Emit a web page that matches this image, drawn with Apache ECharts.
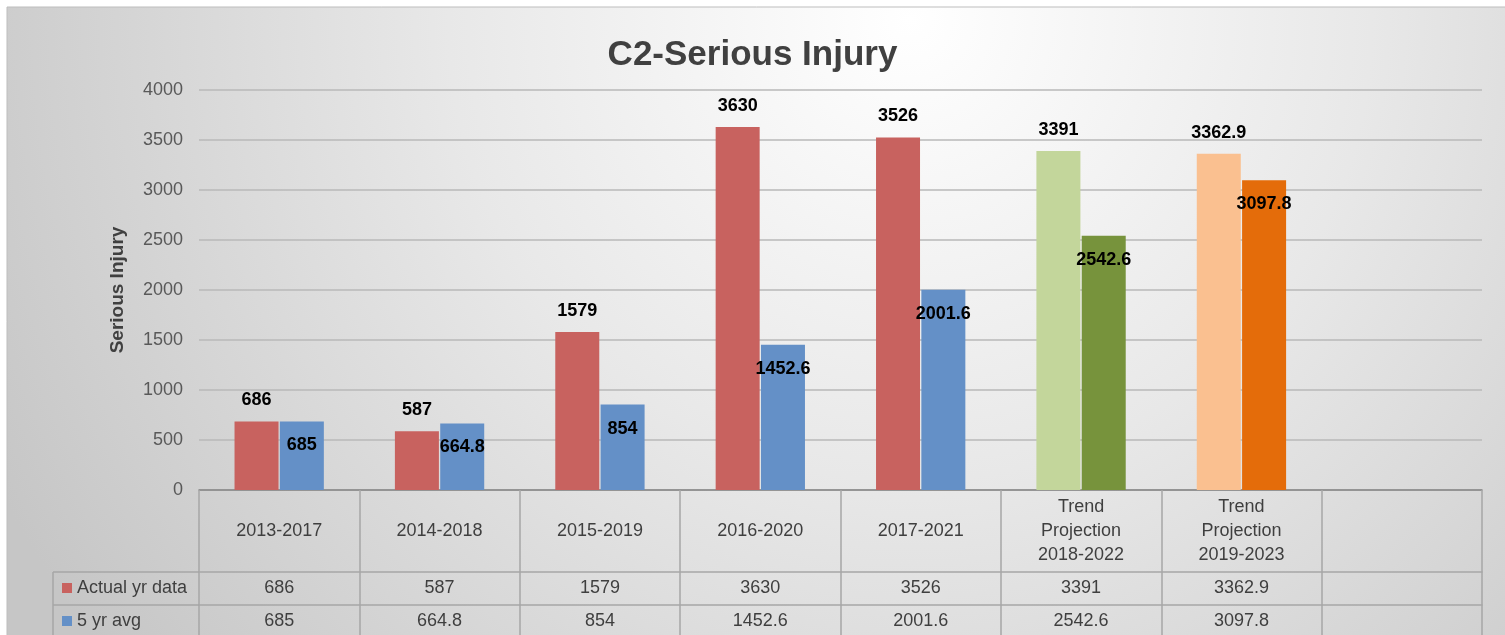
<!DOCTYPE html>
<html>
<head>
<meta charset="utf-8">
<script src="https://cdn.jsdelivr.net/npm/echarts@6/dist/echarts.min.js"></script>
<style>
  html, body { margin: 0; padding: 0; background: #fff; }
  #chart { width: 1505px; height: 635px; }
</style>
</head>
<body>
<div id="chart"></div>
<script>
// category columns (last column of the data table is empty)
const categories = ['2013-2017', '2014-2018', '2015-2019', '2016-2020', '2017-2021',
  'Trend\nProjection\n2018-2022', 'Trend\nProjection\n2019-2023', '']
const actualData = [686, 587, 1579, 3630, 3526, 3391, 3362.9, null]
const avgData = [685, 664.8, 854, 1452.6, 2001.6, 2542.6, 3097.8, null]
const seriesNames = ['Actual yr data', '5 yr avg']

// bar colours per column (projections get green / orange)
const actualColors = ['#C8625F', '#C8625F', '#C8625F', '#C8625F', '#C8625F', '#C3D69B', '#FAC090', '#C8625F']
const avgColors = ['#6490C7', '#6490C7', '#6490C7', '#6490C7', '#6490C7', '#77933C', '#E46C0A', '#6490C7']

const FONT = '"Liberation Sans", Arial, sans-serif'
const gridLeft = 199, gridRight = 1482, gridTop = 90, gridBottom = 490
const tableGrey = '#a6a6a6'
const textGrey = '#3f3f3f'

const fmt = (v) => (v === null || v === undefined) ? '' : String(v)

const chart = echarts.init(document.getElementById('chart'))

const tableAxis = (values, offset) => ({
  type: 'category',
  gridIndex: 0,
  position: 'bottom',
  offset: offset,
  data: values.map(fmt),
  axisLine: { show: true, lineStyle: { color: tableGrey, width: 1.5 } },
  axisTick: { show: false },
  axisLabel: {
    interval: 0, margin: 16, verticalAlign: 'middle',
    fontFamily: FONT, fontSize: 18, color: textGrey
  },
  splitLine: { show: false }
})

chart.setOption({
  animation: false,
  textStyle: { fontFamily: FONT },
  graphic: [
    {
      type: 'rect', z: -10, silent: true,
      shape: { x: 7, y: 7, width: 1505, height: 640 },
      style: {
        fill: new echarts.graphic.RadialGradient(0.6, 0.02, 1.6, [
          { offset: 0, color: '#ffffff' },
          { offset: 0.45, color: '#e8e8e8' },
          { offset: 1, color: '#c6c6c6' }
        ]),
        stroke: '#bdbdbd', lineWidth: 1
      }
    },
    { type: 'line', silent: true, shape: { x1: 53, y1: 572, x2: gridLeft, y2: 572 }, style: { stroke: tableGrey, lineWidth: 1.5 } },
    { type: 'line', silent: true, shape: { x1: 53, y1: 605, x2: gridLeft, y2: 605 }, style: { stroke: tableGrey, lineWidth: 1.5 } },
    { type: 'line', silent: true, shape: { x1: 53, y1: 572, x2: 53, y2: 640 }, style: { stroke: tableGrey, lineWidth: 1.5 } }
  ],
  title: {
    text: 'C2-Serious Injury',
    left: 'center', top: 38, padding: 0,
    textStyle: { fontFamily: FONT, fontSize: 35, fontWeight: 'bold', color: '#404040' }
  },
  legend: {
    orient: 'vertical',
    left: 62, top: 579, padding: 0,
    itemWidth: 10, itemHeight: 10, itemGap: 15,
    icon: 'rect',
    data: seriesNames,
    textStyle: { fontFamily: FONT, fontSize: 18, lineHeight: 18, color: textGrey, padding: [0, 0, 0, 0] }
  },
  grid: {
    left: gridLeft, right: 1505 - gridRight, top: gridTop, bottom: 635 - gridBottom,
    containLabel: false
  },
  xAxis: [
    {
      type: 'category',
      data: categories,
      axisLine: { show: true, lineStyle: { color: '#858585', width: 1.5 } },
      axisTick: { show: true, length: 150, lineStyle: { color: tableGrey, width: 1.5 } },
      axisLabel: {
        interval: 0, margin: 41, verticalAlign: 'middle', lineHeight: 24,
        fontFamily: FONT, fontSize: 18, color: textGrey
      }
    },
    tableAxis(actualData, 82),
    tableAxis(avgData, 115)
  ],
  yAxis: {
    type: 'value',
    min: 0, max: 4000, interval: 500,
    name: 'Serious Injury',
    nameLocation: 'middle', nameGap: 72, nameRotate: 90,
    nameTextStyle: { fontFamily: FONT, fontSize: 19, fontWeight: 'bold', color: '#404040' },
    axisLine: { show: false },
    axisTick: { show: false },
    axisLabel: {
      margin: 16, fontFamily: FONT, fontSize: 18, color: '#595959',
      formatter: (v) => String(v)
    },
    splitLine: { lineStyle: { color: '#b9b9b9', width: 1.5 } }
  },
  series: [
    {
      name: seriesNames[0],
      type: 'bar',
      barWidth: 44,
      barGap: '3%',
      itemStyle: { color: actualColors[0] },
      data: actualData.map((v, i) => ({ value: v, itemStyle: { color: actualColors[i] } })),
      label: {
        show: true, position: 'top', distance: 12,
        fontFamily: FONT, fontSize: 18, fontWeight: 'bold', color: '#000',
        formatter: (p) => fmt(p.value)
      }
    },
    {
      name: seriesNames[1],
      type: 'bar',
      barWidth: 44,
      itemStyle: { color: avgColors[0] },
      data: avgData.map((v, i) => ({ value: v, itemStyle: { color: avgColors[i] } })),
      label: {
        show: true, position: 'insideTop', distance: 15,
        fontFamily: FONT, fontSize: 18, fontWeight: 'bold', color: '#000',
        formatter: (p) => fmt(p.value)
      }
    }
  ]
})
</script>
</body>
</html>
